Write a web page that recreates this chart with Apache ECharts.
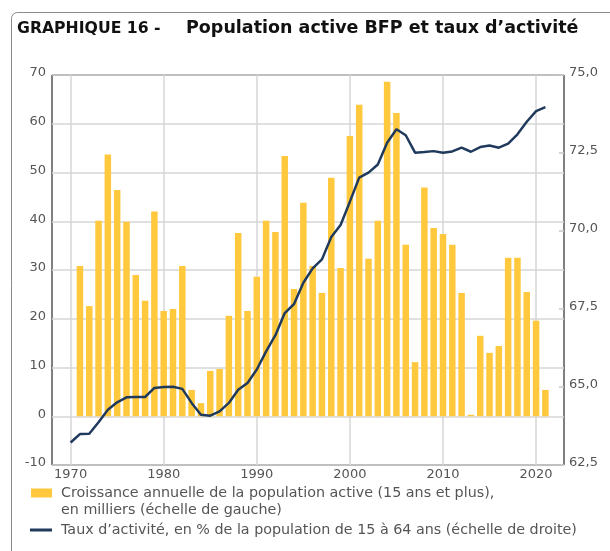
<!DOCTYPE html>
<html>
<head>
<meta charset="utf-8">
<script src="https://cdn.jsdelivr.net/npm/echarts@6/dist/echarts.min.js"></script>
<style>
html, body { margin: 0; padding: 0; background: #fff; }
#chart { width: 610px; height: 551px; }
</style>
</head>
<body>
<div id="chart"></div>
<script>
// x axis runs from 1968 to 2023, labelled every 10 years
var firstYear = 1968
var lastYear = 2023
var categories = []
for (var y = firstYear; y <= lastYear; y++) categories.push(String(y))

// croissance annuelle de la population active, milliers (1971 -> 2021)
var barStart = 1971
var barValues = [
  30.8, 22.6, 40.1, 53.7, 46.4, 39.9, 29.0, 23.7, 42.0, 21.6,
  22.0, 30.8, 5.4, 2.7, 9.3, 9.7, 20.6, 37.6, 21.6, 28.6,
  40.1, 37.8, 53.4, 26.1, 43.8, 30.8, 25.3, 48.9, 30.4, 57.5,
  63.9, 32.3, 40.1, 68.6, 62.2, 35.2, 11.1, 46.9, 38.6, 37.4,
  35.2, 25.3, 0.3, 16.5, 13.0, 14.4, 32.5, 32.5, 25.5, 19.6,
  5.4
]

// taux d'activite 15-64 ans, % (1970 -> 2021)
var rateStart = 1970
var rateValues = [
  63.22, 63.49, 63.50, 63.87, 64.27, 64.51, 64.67, 64.68, 64.68, 64.97,
  65.00, 65.01, 64.94, 64.49, 64.11, 64.08, 64.22, 64.49, 64.91, 65.13,
  65.56, 66.14, 66.66, 67.37, 67.66, 68.34, 68.80, 69.09, 69.81, 70.19,
  70.94, 71.71, 71.87, 72.13, 72.83, 73.26, 73.07, 72.51, 72.53, 72.56,
  72.51, 72.55, 72.67, 72.54, 72.69, 72.74, 72.67, 72.80, 73.10, 73.50,
  73.84, 73.97
]

var barName = 'Croissance annuelle de la population active (15 ans et plus),'
var barNameCont = 'en milliers (échelle de gauche)'
var lineName = 'Taux d’activité, en % de la population de 15 à 64 ans (échelle de droite)'

function alignToCategories(start, values) {
  return categories.map(function (c) {
    var i = Number(c) - start
    return (i >= 0 && i < values.length) ? values[i] : null
  })
}

var decade = function (index, value) {
  return Number(value) % 10 === 0
}

var font = 'DejaVu Sans'
var gridColor = '#d6d6d6'
var legendText = { fontFamily: font, fontSize: 14.3, color: '#555', padding: [0, 0, 0, 4] }

var chart = echarts.init(document.getElementById('chart'))
chart.setOption({
  backgroundColor: '#fff',
  animation: false,
  title: [{
    text: 'GRAPHIQUE 16 -',
    left: 17,
    top: 21,
    padding: 0,
    textStyle: { fontFamily: font, fontWeight: 'bold', fontSize: 15.7, color: '#111' }
  }, {
    text: 'Population active BFP et taux d’activité',
    left: 186,
    top: 19,
    padding: 0,
    textStyle: { fontFamily: font, fontWeight: 'bold', fontSize: 17.5, color: '#111' }
  }],
  graphic: [{
    type: 'rect',
    silent: true,
    shape: { x: 11.5, y: 12.5, width: 700, height: 600, r: 6 },
    style: { fill: 'none', stroke: '#8a8a8a', lineWidth: 1 }
  }, {
    // second line of the bar legend label
    type: 'text',
    silent: true,
    left: 61,
    top: 503,
    style: { text: barNameCont, font: '14.3px "DejaVu Sans"', fill: '#555' }
  }],
  grid: {
    left: 52,
    right: 46,
    top: 75,
    bottom: 86,
    show: true,
    borderColor: '#000',
    borderWidth: 1
  },
  legend: [{
    data: [barName],
    left: 31,
    top: 486,
    padding: 0,
    selectedMode: false,
    icon: 'rect',
    itemWidth: 21,
    itemHeight: 9,
    textStyle: legendText
  }, {
    data: [lineName],
    left: 30,
    top: 523,
    padding: 0,
    selectedMode: false,
    icon: 'rect',
    itemWidth: 22,
    itemHeight: 3,
    textStyle: legendText
  }],
  xAxis: {
    type: 'category',
    data: categories,
    boundaryGap: false,
    axisLine: { show: false },
    axisTick: { show: false },
    axisLabel: { interval: decade, color: '#555', fontFamily: font, fontSize: 13, margin: 3 },
    splitLine: { show: true, interval: decade, lineStyle: { color: gridColor, width: 1.5 } }
  },
  yAxis: [{
    type: 'value',
    min: -10,
    max: 70,
    interval: 10,
    axisLine: { show: false },
    axisTick: { show: false },
    axisLabel: { color: '#555', fontFamily: font, fontSize: 13, margin: 6, verticalAlign: 'bottom', lineHeight: 4 },
    splitLine: { show: true, lineStyle: { color: gridColor, width: 1.5 } }
  }, {
    type: 'value',
    position: 'right',
    min: 62.5,
    max: 75,
    interval: 2.5,
    axisLine: { show: false },
    axisTick: { show: true, inside: true, length: 5, lineStyle: { color: '#c8c8c8', width: 1.5 } },
    axisLabel: {
      color: '#555', fontFamily: font, fontSize: 13, margin: 5, verticalAlign: 'bottom', lineHeight: 4,
      formatter: function (v) { return v.toFixed(1).replace('.', ',') }
    },
    splitLine: { show: false }
  }],
  series: [{
    name: barName,
    type: 'bar',
    yAxisIndex: 0,
    barWidth: 6.5,
    itemStyle: { color: '#FFC83D' },
    data: alignToCategories(barStart, barValues)
  }, {
    name: lineName,
    type: 'line',
    yAxisIndex: 1,
    symbol: 'none',
    itemStyle: { color: '#1F3A5C' },
    lineStyle: { color: '#1F3A5C', width: 2.5 },
    data: alignToCategories(rateStart, rateValues)
  }]
})
</script>
</body>
</html>
